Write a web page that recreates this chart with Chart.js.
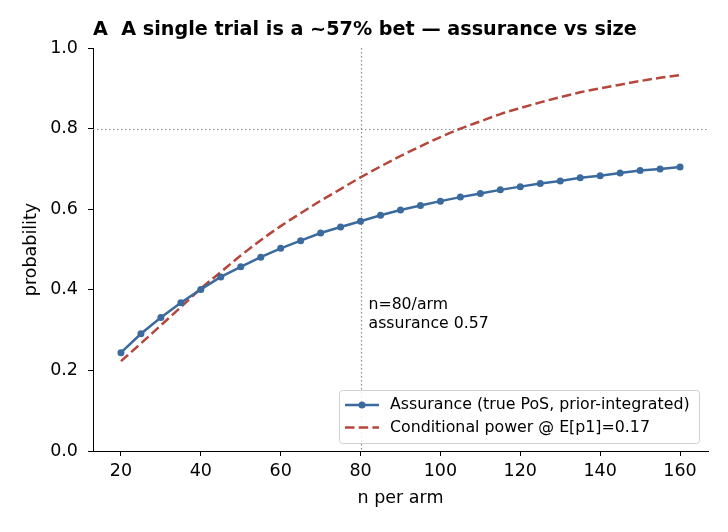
<!DOCTYPE html>
<html>
<head>
<meta charset="utf-8">
<script src="https://cdn.jsdelivr.net/npm/chart.js@4/dist/chart.umd.min.js"></script>
<style>
  html, body { margin: 0; padding: 0; background: #ffffff; }
  #wrap { width: 728px; height: 532px; position: relative; }
</style>
</head>
<body>
<div id="wrap"><canvas id="c" width="728" height="532"></canvas></div>
<script>
// ---- data ----
const nPerArm = [20,25,30,35,40,45,50,55,60,65,70,75,80,85,90,95,100,105,110,115,120,125,130,135,140,145,150,155,160];
const assurance = [0.244,0.291,0.331,0.368,0.401,0.432,0.457,0.481,0.503,0.522,0.541,0.556,0.570,0.585,0.598,0.609,0.620,0.630,0.639,0.648,0.656,0.664,0.670,0.678,0.683,0.690,0.696,0.700,0.705];
const condPower = [0.223,0.267,0.312,0.357,0.403,0.444,0.485,0.523,0.558,0.590,0.621,0.650,0.679,0.706,0.732,0.756,0.779,0.800,0.818,0.836,0.851,0.865,0.878,0.890,0.900,0.909,0.918,0.926,0.933];
const xTicks = [20,40,60,80,100,120,140,160];
const yTicks = [0.0,0.2,0.4,0.6,0.8,1.0];
const seriesLabels = ["Assurance (true PoS, prior-integrated)", "Conditional power @ E[p1]=0.17"];
const titleText = "A  A single trial is a ~57% bet \u2014 assurance vs size";
const xTitle = "n per arm";
const yTitle = "probability";
const refN = 80;
const refLevel = 0.8;
const noteLines = ["n=80/arm", "assurance 0.57"];

const FONT = "'DejaVu Sans', sans-serif";
const BLUE = "#3a6a9e";
const RED = "#b5463a";
const DASH = [9.5, 4.2];

const extras = {
  id: 'extras',
  beforeDatasetsDraw(chart) {
    const {ctx, chartArea: a, scales: {x, y}} = chart;
    ctx.save();
    ctx.strokeStyle = '#8c8c8c';
    ctx.lineWidth = 1.2;
    ctx.setLineDash([1.5, 2.5]);
    const yp = Math.round(y.getPixelForValue(refLevel)) + 0.5;
    ctx.beginPath(); ctx.moveTo(a.left, yp); ctx.lineTo(a.right, yp); ctx.stroke();
    const xp = Math.round(x.getPixelForValue(refN)) + 0.5;
    ctx.beginPath(); ctx.moveTo(xp, a.top); ctx.lineTo(xp, a.bottom); ctx.stroke();
    ctx.restore();
  },
  afterDraw(chart) {
    const {ctx, chartArea: a, scales: {x, y}} = chart;
    ctx.save();
    // annotation
    ctx.fillStyle = '#000';
    ctx.font = "15.7px " + FONT;
    ctx.textAlign = 'left';
    ctx.textBaseline = 'middle';
    ctx.fillText(noteLines[0], x.getPixelForValue(82), y.getPixelForValue(0.362));
    ctx.fillText(noteLines[1], x.getPixelForValue(82), y.getPixelForValue(0.315));
    // title
    ctx.font = "bold 19.2px " + FONT;
    ctx.textBaseline = 'middle';
    ctx.fillText(titleText, a.left, 30);
    // axis titles
    ctx.font = "17.5px " + FONT;
    ctx.textAlign = 'center';
    ctx.fillText(xTitle, (a.left + a.right) / 2, 498);
    ctx.save();
    ctx.translate(31, (a.top + a.bottom) / 2);
    ctx.rotate(-Math.PI / 2);
    ctx.fillText(yTitle, 0, 0);
    ctx.restore();
    // legend
    const bx = 339.5, by = 390.5, bw = 360, bh = 53;
    ctx.fillStyle = 'rgba(255,255,255,0.85)';
    ctx.strokeStyle = '#d0d0d0';
    ctx.lineWidth = 1;
    ctx.beginPath();
    ctx.roundRect(bx, by, bw, bh, 3);
    ctx.fill(); ctx.stroke();
    const rows = [405, 427.5];
    // row 1
    ctx.strokeStyle = BLUE; ctx.lineWidth = 2.5; ctx.setLineDash([]);
    ctx.beginPath(); ctx.moveTo(345, rows[0]); ctx.lineTo(379, rows[0]); ctx.stroke();
    ctx.fillStyle = BLUE;
    ctx.beginPath(); ctx.arc(362, rows[0], 3.5, 0, Math.PI * 2); ctx.fill();
    // row 2
    ctx.strokeStyle = RED; ctx.setLineDash(DASH);
    ctx.beginPath(); ctx.moveTo(345, rows[1]); ctx.lineTo(379, rows[1]); ctx.stroke();
    ctx.setLineDash([]);
    ctx.fillStyle = '#000';
    ctx.font = "15.8px " + FONT;
    ctx.textAlign = 'left';
    ctx.fillText(seriesLabels[0], 390, rows[0]);
    ctx.fillText(seriesLabels[1], 390, rows[1]);
    ctx.restore();
  }
};

new Chart(document.getElementById('c'), {
  type: 'line',
  data: {
    datasets: [
      {
        label: seriesLabels[0],
        data: nPerArm.map((n, i) => ({x: n, y: assurance[i]})),
        borderColor: BLUE, backgroundColor: BLUE,
        borderWidth: 2.5, pointRadius: 3.5, pointHoverRadius: 3.5,
        pointBorderWidth: 0, tension: 0, order: 1
      },
      {
        label: seriesLabels[1],
        data: nPerArm.map((n, i) => ({x: n, y: condPower[i]})),
        borderColor: RED, backgroundColor: RED,
        borderWidth: 2.5, borderDash: DASH, pointRadius: 0,
        tension: 0.35, cubicInterpolationMode: 'monotone', order: 2
      }
    ]
  },
  options: {
    responsive: false,
    animation: false,
    devicePixelRatio: 1,
    layout: { padding: { left: 0, top: 48, right: 20, bottom: 0 } },
    plugins: { legend: { display: false }, title: { display: false }, tooltip: { enabled: false } },
    scales: {
      x: {
        type: 'linear', min: 13, max: 167,
        afterFit(s) { s.height = 81; },
        afterBuildTicks(s) { s.ticks = xTicks.map(v => ({value: v})); },
        grid: { display: true, drawOnChartArea: false, drawTicks: true, tickLength: 5, tickColor: '#000', tickWidth: 1 },
        border: { display: true, color: '#000', width: 1 },
        ticks: { color: '#000', font: { family: FONT, size: 17.5 }, padding: 5, maxRotation: 0, autoSkip: false }
      },
      y: {
        type: 'linear', min: 0, max: 1,
        afterFit(s) { s.width = 93; },
        afterBuildTicks(s) { s.ticks = yTicks.map(v => ({value: v})); },
        grid: { display: true, drawOnChartArea: false, drawTicks: true, tickLength: 5, tickColor: '#000', tickWidth: 1 },
        border: { display: true, color: '#000', width: 1 },
        ticks: { color: '#000', font: { family: FONT, size: 17.5 }, padding: 10, callback: v => Number(v).toFixed(1) }
      }
    }
  },
  plugins: [extras]
});
</script>
</body>
</html>
